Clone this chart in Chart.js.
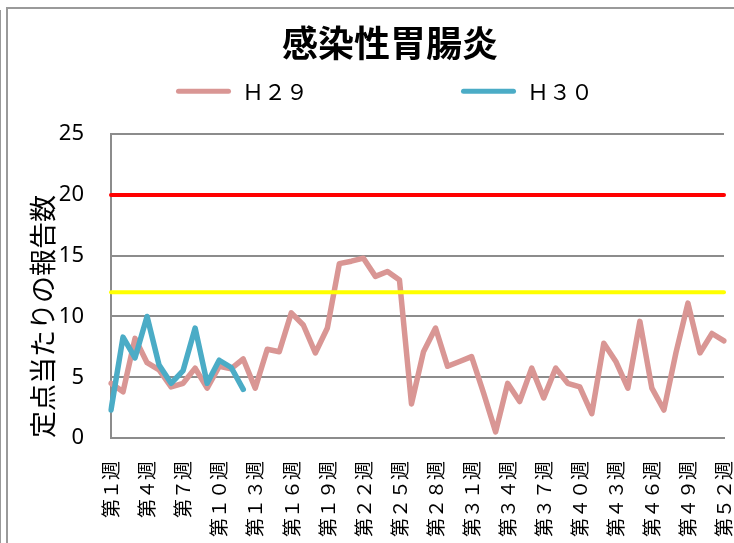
<!DOCTYPE html>
<html>
<head>
<meta charset="utf-8">
<script src="https://cdn.jsdelivr.net/npm/chart.js@4/dist/chart.umd.min.js"></script>
<style>
html, body { margin: 0; padding: 0; background: #fff; }
#wrap { position: relative; width: 734px; height: 543px; overflow: hidden; }
#frame { position: absolute; left: 6px; top: 7px; width: 760px; height: 600px; border: 2px solid #9a9a9a; }
#edge { position: absolute; left: 0; top: 10px; width: 1px; height: 540px; background: #9a9a9a; }
canvas { position: absolute; left: 0; top: 0; }
</style>
</head>
<body>
<div id="wrap">
  <div id="edge"></div>
  <div id="frame"></div>
  <canvas id="chart" width="734" height="543"></canvas>
</div>
<script>
// 感染性胃腸炎 - 定点当たりの報告数 (H29 / H30)

const weeks = ['第１週','第２週','第３週','第４週','第５週','第６週','第７週','第８週','第９週','第１０週',
  '第１１週','第１２週','第１３週','第１４週','第１５週','第１６週','第１７週','第１８週','第１９週','第２０週',
  '第２１週','第２２週','第２３週','第２４週','第２５週','第２６週','第２７週','第２８週','第２９週','第３０週',
  '第３１週','第３２週','第３３週','第３４週','第３５週','第３６週','第３７週','第３８週','第３９週','第４０週',
  '第４１週','第４２週','第４３週','第４４週','第４５週','第４６週','第４７週','第４８週','第４９週','第５０週',
  '第５１週','第５２週'];

const h29 = [4.5, 3.8, 8.2, 6.2, 5.6, 4.2, 4.5, 5.75, 4.1, 5.9,
  5.7, 6.5, 4.1, 7.3, 7.1, 10.3, 9.3, 7.0, 9.05, 14.35,
  14.55, 14.8, 13.3, 13.7, 13.0, 2.8, 7.1, 9.05, 5.9, 6.3,
  6.7, 3.7, 0.5, 4.5, 3.0, 5.75, 3.3, 5.75, 4.5, 4.2,
  2.0, 7.8, 6.3, 4.1, 9.6, 4.1, 2.3, 7.0, 11.1, 7.0,
  8.6, 8.0];

const h30 = [2.3, 8.3, 6.6, 10.0, 6.0, 4.5, 5.55, 9.05, 4.5, 6.4, 5.8, 4.0];

const seriesNames = ['Ｈ２９', 'Ｈ３０'];
const seriesColors = ['#d99694', '#4bacc6'];

// 警報・注意報レベル
const alertLevel = 20;
const warnLevel = 12;

const jpFont = '"Noto Sans CJK JP", sans-serif';

function levelLine(level, color, order) {
    return {
        label: '',
        data: [{x: weeks[0], y: level}, {x: weeks[weeks.length - 1], y: level}],
        borderColor: color,
        backgroundColor: color,
        borderWidth: 4,
        borderCapStyle: 'round',
        pointRadius: 0,
        order: order
    };
}

function seriesLine(name, values, color, order) {
    return {
        label: name,
        data: values,
        borderColor: color,
        backgroundColor: color,
        borderWidth: 5.5,
        borderCapStyle: 'round',
        borderJoinStyle: 'round',
        pointRadius: 0,
        tension: 0,
        order: order
    };
}

// legend spacing is done with trailing spaces in the label text
const legendPad = ['　　　　　　\u2002', '\u2002'];

const config = {
    type: 'line',
    data: {
        labels: weeks,
        datasets: [
            seriesLine(seriesNames[0], h29, seriesColors[0], 3),
            seriesLine(seriesNames[1], h30, seriesColors[1], 2),
            levelLine(alertLevel, '#ff0000', 1),
            levelLine(warnLevel, '#ffff00', 0)
        ]
    },
    options: {
        responsive: false,
        animation: false,
        layout: {
            padding: {left: 46, right: 0, top: 0, bottom: 0}
        },
        plugins: {
            title: {
                display: true,
                text: '感染性胃腸炎',
                color: '#000',
                font: {family: jpFont, size: 36, weight: 'bold', lineHeight: 1.2},
                padding: {top: 22, bottom: 5}
            },
            subtitle: {
                // spacer between legend and plot
                display: true,
                text: ' ',
                weight: 500,
                font: {size: 10, lineHeight: 1.2},
                padding: {top: 10, bottom: 0}
            },
            legend: {
                labels: {
                    color: '#000',
                    font: {family: jpFont, size: 22},
                    boxWidth: 55,
                    boxHeight: 5,
                    padding: 10,
                    useBorderRadius: true,
                    borderRadius: 2.5,
                    generateLabels: function (chart) {
                        const items = Chart.defaults.plugins.legend.labels.generateLabels(chart);
                        return items
                            .filter(it => it.datasetIndex < 2)
                            .sort((a, b) => a.datasetIndex - b.datasetIndex)
                            .map(it => {
                                it.text = it.text + legendPad[it.datasetIndex];
                                it.lineWidth = 0;
                                return it;
                            });
                    }
                }
            },
            tooltip: {enabled: false}
        },
        scales: {
            x: {
                grid: {display: false},
                border: {display: true, color: '#8c8c8c', width: 2},
                ticks: {
                    autoSkip: false,
                    maxRotation: 90,
                    minRotation: 90,
                    padding: 15,
                    color: '#000',
                    font: {family: jpFont, size: 19},
                    callback: function (value, index) {
                        return index % 3 === 0 ? weeks[index] : '';
                    }
                },
                afterFit: function (scale) {
                    scale.height = 105;
                    scale.paddingLeft = 0;
                    scale.paddingRight = 10;
                }
            },
            y: {
                min: 0,
                max: 25,
                grid: {color: '#8c8c8c', lineWidth: 2, drawTicks: false},
                border: {display: true, color: '#8c8c8c', width: 2},
                ticks: {
                    stepSize: 5,
                    padding: 27,
                    color: '#000',
                    font: {family: '"Noto Sans", sans-serif', size: 22}
                },
                title: {
                    display: true,
                    text: '定点当たりの報告数',
                    align: 'start',
                    color: '#000',
                    font: {family: jpFont, size: 27, lineHeight: 1.2},
                    padding: {top: -19.2, bottom: 0}
                },
                afterFit: function (scale) {
                    scale.width = 65;
                }
            }
        }
    }
};

const chart = new Chart(document.getElementById('chart'), config);
</script>
</body>
</html>
